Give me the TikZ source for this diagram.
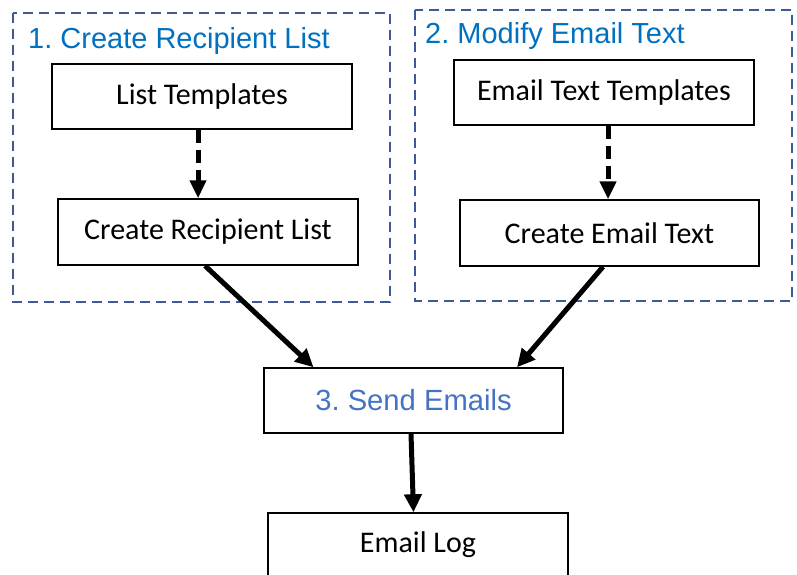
\documentclass[tikz,border=0pt]{standalone}
\usepackage{fontspec}
\setmainfont{Carlito}
\newfontfamily\arialf{Liberation Sans}
\usetikzlibrary{arrows.meta,calc}
\definecolor{titleblue}{HTML}{0070C0}
\definecolor{sendblue}{HTML}{4472C4}
\definecolor{groupline}{HTML}{3D5A96}
\frenchspacing
\tikzset{
  procbox/.style={draw=black,line width=1.5pt,minimum width=300pt,minimum height=66pt,inner sep=0pt,font=\fontsize{30}{34}\selectfont},
  groupbox/.style={draw=groupline,line width=2.5pt,dash pattern=on 10pt off 6pt},
  grouptitle/.style={anchor=base west,inner sep=0pt,text=titleblue,font=\arialf\frenchspacing\fontsize{29}{33}\selectfont},
  thickarrow/.style={line width=5pt,-{Triangle[length=18pt,width=17pt]}},
  dasharrow/.style={line width=5pt,dash pattern=on 13pt off 7pt,-{Triangle[length=18pt,width=16pt]}}
}
\begin{document}
\begin{tikzpicture}[x=1pt,y=-1pt]
\useasboundingbox (0,0) rectangle (797,574);
% group frames
\draw[groupbox] (13,13) rectangle (390,302);
\draw[groupbox] (415,10) rectangle (792,301);
\node[grouptitle] (t1) at (28,48) {1. Create Recipient List};
\node[grouptitle] (t2) at (425,43) {2. Modify Email Text};
% boxes
\node[procbox,minimum width=300pt,minimum height=65pt] (lt) at (202,96.5) {List Templates};
\node[procbox,minimum width=300pt,minimum height=66pt] (crl) at (208,232) {Create Recipient List};
\node[procbox,minimum width=300pt,minimum height=65pt] (ett) at (604,92.5) {Email Text Templates};
\node[procbox,minimum width=299pt,minimum height=66pt] (cet) at (609.5,233) {Create Email Text};
\node[procbox,minimum width=299pt,minimum height=65pt,text=sendblue,font=\arialf\frenchspacing\fontsize{29.2}{33}\selectfont] (send) at (413.5,400.5) {3. Send Emails};
\node[procbox,minimum width=300pt,minimum height=80pt] (log) at (418,553) {};
\node[font=\fontsize{30}{34}\selectfont,inner sep=0pt,anchor=base] (logt) at (418,552) {Email Log};
% connectors
\draw[dasharrow] ([xshift=-4pt]lt.south) -- ([xshift=-10pt]crl.north);
\draw[dasharrow] ([xshift=4pt]ett.south) -- ([xshift=-1.5pt]cet.north);
\draw[thickarrow] ([xshift=-3pt]crl.south) -- ([xshift=-100pt]send.north);
\draw[thickarrow] ([xshift=-6.5pt]cet.south) -- ([xshift=103.5pt]send.north);
\draw[thickarrow] ([xshift=-2.5pt]send.south) -- (send.south |- log.north);
\end{tikzpicture}
\end{document}
